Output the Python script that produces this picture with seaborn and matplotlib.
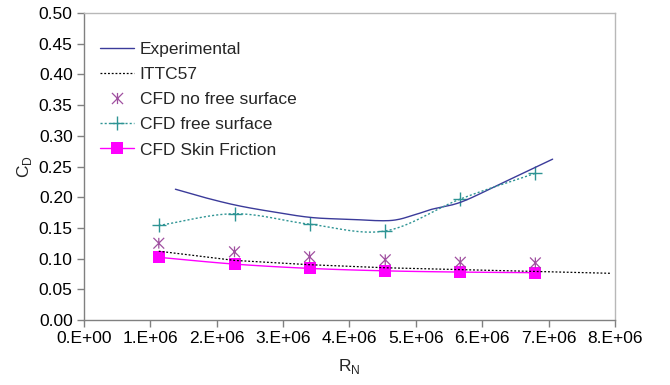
import numpy as np
import pandas as pd
import matplotlib
matplotlib.use("Agg")
import matplotlib.pyplot as plt
from matplotlib.path import Path
from matplotlib.lines import Line2D
import seaborn as sns

# ---- data ----
exp_rn = [1.38e6, 1.8e6, 2.29e6, 2.8e6, 3.42e6, 4.0e6, 4.62e6, 5.0e6, 5.23e6, 5.68e6, 6.28e6, 7.06e6]
exp_cd = [0.213, 0.200, 0.187, 0.177, 0.167, 0.164, 0.162, 0.172, 0.180, 0.192, 0.222, 0.262]

ittc_rn = [1.13e6, 2.27e6, 3.40e6, 4.54e6, 5.67e6, 6.80e6, 7.93e6]
ittc_cd = [0.112, 0.097, 0.090, 0.085, 0.082, 0.079, 0.076]

cfd_rn = [1.13e6, 2.27e6, 3.40e6, 4.54e6, 5.67e6, 6.80e6]
nofs_cd = [0.125, 0.111, 0.103, 0.098, 0.094, 0.093]
fs_cd = [0.154, 0.173, 0.156, 0.145, 0.197, 0.239]
skin_cd = [0.102, 0.091, 0.084, 0.080, 0.078, 0.077]

x_ticks = [0, 1e6, 2e6, 3e6, 4e6, 5e6, 6e6, 7e6, 8e6]
x_labels = ["0.E+00", "1.E+06", "2.E+06", "3.E+06", "4.E+06", "5.E+06", "6.E+06", "7.E+06", "8.E+06"]
y_ticks = [0.0, 0.05, 0.10, 0.15, 0.20, 0.25, 0.30, 0.35, 0.40, 0.45, 0.50]


def smooth(xs, ys, n=20):
    """Catmull-Rom rendering of a smoothed line (like a spreadsheet's smoothed line)."""
    xs = np.asarray(xs, float); ys = np.asarray(ys, float)
    P = np.column_stack([xs, ys])
    P = np.vstack([P[0] - (P[1] - P[0]), P, P[-1] + (P[-1] - P[-2])])
    out = []
    for i in range(1, len(P) - 2):
        p0, p1, p2, p3 = P[i - 1], P[i], P[i + 1], P[i + 2]
        t = np.linspace(0, 1, n, endpoint=False)[:, None]
        pts = 0.5 * ((2 * p1) + (-p0 + p2) * t + (2 * p0 - 5 * p1 + 4 * p2 - p3) * t ** 2
                     + (-p0 + 3 * p1 - 3 * p2 + p3) * t ** 3)
        out.append(pts)
    out.append(P[-2][None, :])
    out = np.vstack(out)
    return pd.DataFrame({"x": out[:, 0], "y": out[:, 1]})


# Excel-like star marker: an X plus a vertical stroke
star = Path([(-1, -1), (1, 1), (-1, 1), (1, -1), (0, -1), (0, 1)],
            [Path.MOVETO, Path.LINETO, Path.MOVETO, Path.LINETO, Path.MOVETO, Path.LINETO])

sns.set_theme(style="white")
plt.rcParams["font.family"] = ["Liberation Sans", "DejaVu Sans"]

fig, ax = plt.subplots(figsize=(6.7, 3.85), dpi=100)
fig.subplots_adjust(left=0.125, right=0.918, top=0.966, bottom=0.169)

navy = "#3b3b9a"
teal = "#2e9494"
purple = "#a050a0"
magenta = "#ff00ff"

e = smooth(exp_rn, exp_cd)
sns.lineplot(data=e, x="x", y="y", ax=ax, color=navy, lw=1.0, sort=False)
sns.lineplot(x=ittc_rn, y=ittc_cd, ax=ax, color="black", lw=0.9, linestyle=(0, (1.5, 1.5)))
fsd = smooth(cfd_rn, fs_cd)
ax.plot(fsd["x"], fsd["y"], color=teal, lw=1.0, linestyle=(0, (1.5, 1.5)))
sns.scatterplot(x=cfd_rn, y=fs_cd, ax=ax, color=teal, marker="+", s=110, linewidth=1.0)
sk = smooth(cfd_rn, skin_cd)
ax.plot(sk["x"], sk["y"], color=magenta, lw=1.0)
sns.scatterplot(x=cfd_rn, y=skin_cd, ax=ax, color=magenta, marker="s", s=75, linewidth=0)
sns.scatterplot(x=cfd_rn, y=nofs_cd, ax=ax, facecolor="none", edgecolor=purple,
                marker=star, s=60, linewidth=0.9)

handles = [
    Line2D([], [], color=navy, lw=1.0),
    Line2D([], [], color="black", lw=0.9, linestyle=(0, (1.5, 1.5))),
    Line2D([], [], color=purple, lw=0, marker=star, markersize=8, markeredgewidth=0.9),
    Line2D([], [], color=teal, lw=1.0, linestyle=(0, (1.5, 1.5)), marker="+", markersize=10,
           markeredgewidth=1.0),
    Line2D([], [], color=magenta, lw=1.0, marker="s", markersize=8.5, markeredgewidth=0),
]
labels = ["Experimental", "ITTC57", "CFD no free surface", "CFD free surface", "CFD Skin Friction"]
ax.legend(handles, labels, loc="upper left", bbox_to_anchor=(0.017, 0.93), frameon=False,
          fontsize=12.5, handlelength=2.0, handletextpad=0.3, labelspacing=0.58, borderaxespad=0)

ax.set_xlim(0, 8e6)
ax.set_ylim(0, 0.5)
ax.set_xticks(x_ticks)
ax.set_xticklabels(x_labels)
ax.set_yticks(y_ticks)
ax.set_yticklabels([f"{v:.2f}" for v in y_ticks])
ax.tick_params(axis="both", which="major", direction="out", length=5, width=1.0,
               color="#808080", labelsize=12.5, labelcolor="black", pad=3,
               bottom=True, left=True)
ax.set_xlabel("R$_\\mathregular{N}$", fontsize=12.5, labelpad=8)
ax.set_ylabel("C$_\\mathregular{D}$", fontsize=12.5, labelpad=3)

for side in ["left", "bottom"]:
    ax.spines[side].set_color("#808080")
    ax.spines[side].set_linewidth(1.0)
for side in ["top", "right"]:
    ax.spines[side].set_visible(True)
    ax.spines[side].set_color("#b8b8b8")
    ax.spines[side].set_linewidth(1.0)

fig.savefig("out.png", dpi=100)
